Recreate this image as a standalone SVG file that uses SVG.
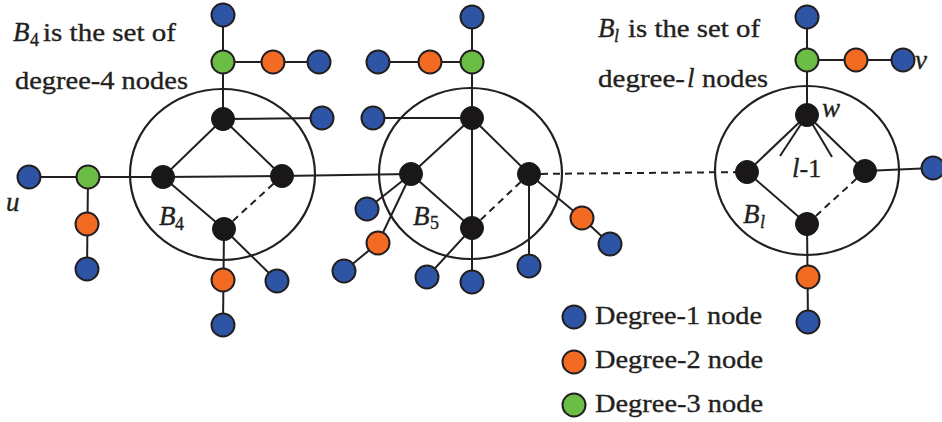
<svg xmlns="http://www.w3.org/2000/svg" width="942" height="422" viewBox="0 0 942 422">
<style>
.e{stroke:#231F20;stroke-width:2;fill:none}
.d{stroke:#231F20;stroke-width:2;fill:none;stroke-dasharray:7 5}
.set{stroke:#231F20;stroke-width:2.2;fill:none}
.n1{fill:#2E55A5;stroke:#231F20;stroke-width:2}
.n2{fill:#F36A22;stroke:#231F20;stroke-width:2}
.n3{fill:#6BBD46;stroke:#231F20;stroke-width:2}
.nb{fill:#1A1718;stroke:#1A1718;stroke-width:1}
text{font-family:'Liberation Serif','Times New Roman',Tinos,Times,serif;fill:#231F20;stroke:#231F20;stroke-width:0.35;font-size:26px}
.it{font-style:italic;font-size:27px}
.sub{font-size:18px}
</style>
<rect width="942" height="422" fill="#fff"/>
<g id="sets">
<ellipse class="set" cx="222.5" cy="174.5" rx="92.5" ry="85.5"/>
<ellipse class="set" cx="470.5" cy="173.5" rx="91.5" ry="85.5"/>
<ellipse class="set" cx="807" cy="170.5" rx="92" ry="84.5"/>
</g>
<g id="connectors">
<line class="e" x1="29" y1="177" x2="163" y2="177"/>
<line class="e" x1="163" y1="177" x2="282" y2="176"/>
<line class="e" x1="282" y1="176" x2="411" y2="174"/>
<line class="e" x1="88" y1="177" x2="87" y2="269"/>
<line class="e" x1="223" y1="15" x2="223" y2="119"/>
<line class="e" x1="223" y1="62" x2="319" y2="62"/>
<line class="e" x1="223" y1="119" x2="322" y2="118"/>
<line class="e" x1="223" y1="119" x2="163" y2="177"/>
<line class="e" x1="223" y1="119" x2="282" y2="176"/>
<line class="e" x1="163" y1="177" x2="224" y2="229"/>
<line class="d" x1="224" y1="229" x2="282" y2="176"/>
<line class="e" x1="224" y1="229" x2="223" y2="325"/>
<line class="e" x1="224" y1="229" x2="277" y2="281"/>
<line class="e" x1="472" y1="17" x2="472" y2="118"/>
<line class="e" x1="378" y1="62" x2="472" y2="62"/>
<line class="e" x1="373" y1="118" x2="472" y2="118"/>
<line class="e" x1="472" y1="118" x2="411" y2="174"/>
<line class="e" x1="472" y1="118" x2="529" y2="174"/>
<line class="e" x1="472" y1="118" x2="472" y2="282"/>
<line class="e" x1="411" y1="174" x2="472" y2="228"/>
<line class="d" x1="472" y1="228" x2="529" y2="174"/>
<line class="e" x1="411" y1="174" x2="367" y2="209"/>
<line class="e" x1="411" y1="174" x2="378" y2="243"/>
<line class="e" x1="378" y1="243" x2="344" y2="271"/>
<line class="e" x1="472" y1="228" x2="427" y2="277"/>
<line class="e" x1="529" y1="174" x2="529" y2="266"/>
<line class="e" x1="529" y1="174" x2="582" y2="218"/>
<line class="e" x1="582" y1="218" x2="610" y2="244"/>
<line class="d" x1="529" y1="174" x2="747" y2="172"/>
<line class="e" x1="807" y1="17" x2="807" y2="115"/>
<line class="e" x1="807" y1="60" x2="903" y2="60"/>
<line class="e" x1="807" y1="115" x2="747" y2="172"/>
<line class="e" x1="807" y1="115" x2="865" y2="171"/>
<line class="e" x1="807" y1="115" x2="780" y2="156"/>
<line class="e" x1="807" y1="115" x2="832" y2="157"/>
<line class="e" x1="747" y1="172" x2="807" y2="224"/>
<line class="d" x1="807" y1="224" x2="865" y2="171"/>
<line class="e" x1="865" y1="171" x2="933" y2="168"/>
<line class="e" x1="807" y1="224" x2="808" y2="322"/>
</g>
<g id="b4-nodes">
<circle class="n1" cx="29" cy="177" r="11.5"/>
<circle class="n3" cx="88" cy="177" r="11.5"/>
<circle class="n2" cx="87" cy="224" r="11.5"/>
<circle class="n1" cx="87" cy="269" r="11.5"/>
<circle class="n1" cx="223" cy="15" r="11.5"/>
<circle class="n3" cx="223" cy="62" r="11.5"/>
<circle class="n2" cx="273" cy="62" r="11.5"/>
<circle class="n1" cx="319" cy="62" r="11.5"/>
<circle class="n1" cx="322" cy="118" r="11.5"/>
<circle class="nb" cx="223" cy="119" r="11.5"/>
<circle class="nb" cx="163" cy="177" r="11.5"/>
<circle class="nb" cx="282" cy="176" r="11.5"/>
<circle class="nb" cx="224" cy="229" r="11.5"/>
<circle class="n2" cx="223" cy="280" r="11.5"/>
<circle class="n1" cx="223" cy="325" r="11.5"/>
<circle class="n1" cx="277" cy="281" r="11.5"/>
</g>
<g id="b5-nodes">
<circle class="n1" cx="472" cy="17" r="11.5"/>
<circle class="n3" cx="472" cy="62" r="11.5"/>
<circle class="n2" cx="430" cy="62" r="11.5"/>
<circle class="n1" cx="378" cy="62" r="11.5"/>
<circle class="n1" cx="373" cy="118" r="11.5"/>
<circle class="nb" cx="472" cy="118" r="11.5"/>
<circle class="nb" cx="411" cy="174" r="11.5"/>
<circle class="nb" cx="529" cy="174" r="11.5"/>
<circle class="nb" cx="472" cy="228" r="11.5"/>
<circle class="n1" cx="367" cy="209" r="11.5"/>
<circle class="n2" cx="378" cy="243" r="11.5"/>
<circle class="n1" cx="344" cy="271" r="11.5"/>
<circle class="n1" cx="427" cy="277" r="11.5"/>
<circle class="n1" cx="472" cy="282" r="11.5"/>
<circle class="n1" cx="529" cy="266" r="11.5"/>
<circle class="n2" cx="582" cy="218" r="11.5"/>
<circle class="n1" cx="610" cy="244" r="11.5"/>
</g>
<g id="bl-nodes">
<circle class="n1" cx="807" cy="17" r="11.5"/>
<circle class="n3" cx="807" cy="60" r="11.5"/>
<circle class="n2" cx="856" cy="60" r="11.5"/>
<circle class="n1" cx="903" cy="60" r="11.5"/>
<circle class="nb" cx="807" cy="115" r="11.5"/>
<circle class="nb" cx="747" cy="172" r="11.5"/>
<circle class="nb" cx="865" cy="171" r="11.5"/>
<circle class="nb" cx="807" cy="224" r="11.5"/>
<circle class="n1" cx="933" cy="168" r="11.5"/>
<circle class="n2" cx="808" cy="277" r="11.5"/>
<circle class="n1" cx="808" cy="322" r="11.5"/>
</g>
<g id="labels">
<text class="it" x="13" y="41">B</text>
<text class="sub" x="30" y="46">4</text>
<text x="43" y="41" textLength="133" lengthAdjust="spacingAndGlyphs">is the set of</text>
<text x="15" y="89" textLength="173" lengthAdjust="spacingAndGlyphs">degree-4 nodes</text>
<text class="it" x="598" y="37">B</text>
<text class="it sub" x="614" y="42">l</text>
<text x="628" y="37" textLength="132" lengthAdjust="spacingAndGlyphs">is the set of</text>
<text x="598" y="87" textLength="87" lengthAdjust="spacingAndGlyphs">degree-</text>
<text class="it" x="687" y="87">l</text>
<text x="702" y="87" textLength="66" lengthAdjust="spacingAndGlyphs">nodes</text>
<text class="it" x="6" y="211">u</text>
<text class="it" x="159" y="225">B</text>
<text class="sub" x="175" y="230">4</text>
<text class="it" x="413" y="225">B</text>
<text class="sub" x="430" y="229">5</text>
<text class="it" x="743" y="223">B</text>
<text class="it sub" x="760" y="228">l</text>
<text class="it" x="822" y="117">w</text>
<text class="it" x="915" y="69">v</text>
<text x="792" y="177"><tspan class="it">l</tspan>-1</text>
</g>
<g id="legend">
<circle class="n1" cx="574" cy="317" r="11.5"/>
<circle class="n2" cx="574" cy="362" r="11.5"/>
<circle class="n3" cx="574" cy="405" r="11.5"/>
<text x="595" y="324" textLength="167" lengthAdjust="spacingAndGlyphs">Degree-1 node</text>
<text x="595" y="368" textLength="168" lengthAdjust="spacingAndGlyphs">Degree-2 node</text>
<text x="595" y="412" textLength="168" lengthAdjust="spacingAndGlyphs">Degree-3 node</text>
</g>
</svg>
